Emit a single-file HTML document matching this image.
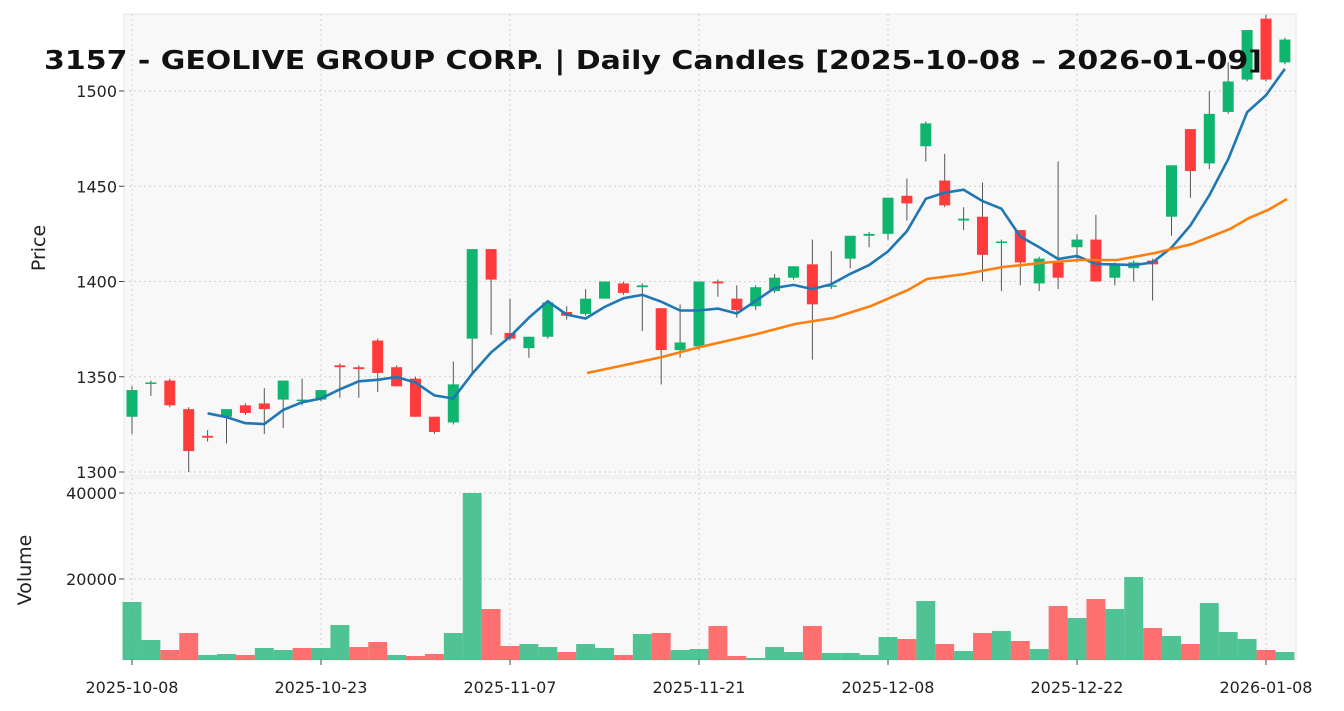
<!DOCTYPE html>
<html><head><meta charset="utf-8"><style>
body{margin:0;background:#fff;}
svg{display:block;font-family:"DejaVu Sans","Liberation Sans",sans-serif;}
</style></head><body>
<svg id="s" width="1344" height="711" viewBox="0 0 1344 711" xmlns="http://www.w3.org/2000/svg"></svg>
<script>
const C=[[1329,1343,1345,1320],[1347,1347,1348,1340],[1348,1335,1349,1334],[1333,1311,1334,1300],[1319,1318,1322,1316],[1329,1333,1333,1315],[1335,1331,1336,1330],[1336,1333,1344,1320],[1338,1348,1348,1323],[1338,1338,1349,1335],[1338,1343,1343,1337],[1356,1355,1357,1339],[1355,1354,1356,1339],[1369,1352,1370,1342],[1355,1345,1356,1345],[1349,1329,1350,1329],[1329,1321,1329,1320],[1326,1346,1358,1325],[1370,1417,1417,1352],[1417,1401,1417,1372],[1373,1370,1391,1369],[1365,1371,1371,1360],[1371,1389,1390,1370],[1384,1382,1387,1380],[1383,1391,1396,1382],[1391,1400,1400,1391],[1399,1394,1400,1393],[1397,1398,1399,1374],[1386,1364,1386,1346],[1364,1368,1388,1360],[1366,1400,1400,1364],[1400,1399,1401,1392],[1391,1385,1398,1381],[1387,1397,1398,1385],[1395,1402,1404,1394],[1402,1408,1408,1401],[1409,1388,1422,1359],[1398,1398,1416,1396],[1412,1424,1424,1407],[1424,1425,1426,1418],[1425,1444,1444,1422],[1445,1441,1454,1432],[1471,1483,1484,1463],[1453,1440,1467,1439],[1432,1433,1439,1427],[1434,1414,1452,1400],[1421,1421,1422,1395],[1427,1410,1427,1398],[1399,1412,1413,1395],[1410,1402,1463,1396],[1418,1422,1425,1410],[1422,1400,1435,1400],[1402,1409,1410,1398],[1407,1410,1411,1400],[1411,1409,1412,1390],[1434,1461,1461,1424],[1480,1458,1480,1444],[1462,1488,1500,1459],[1489,1505,1515,1488],[1506,1532,1532,1505],[1538,1506,1540,1505],[1515,1527,1528,1514]];
const V=[602,640,650,633,655,654,655,648,650,648,648,625,647,642,655,656,654,633,493,609,646,644,647,652,644,648,655,634,633,650,649,626,656,658,647,652,626,653,653,655,637,639,601,644,651,633,631,641,649,606,618,599,609,577,628,636,644,603,632,639,650,652];
const VC=[1,1,0,0,1,1,0,1,1,0,1,1,0,0,1,0,0,1,1,0,0,1,1,0,1,1,0,1,0,1,1,0,0,1,1,1,0,1,1,1,1,0,1,0,1,0,1,0,1,0,1,0,1,1,0,1,0,1,1,1,0,1];
const X=i=>132+18.9*i, Y=p=>91+(1500-p)*1.905;
let h='';
h+=`<rect x="124" y="14" width="1172" height="462" fill="#f8f8f8" stroke="#e6e6e6"/>`;
h+=`<rect x="124" y="478" width="1172" height="182" fill="#f8f8f8" stroke="#e6e6e6"/>`;
const g='stroke="#d0d0d0" stroke-dasharray="2,3" stroke-width="1"';
[1300,1350,1400,1450,1500].forEach(p=>{h+=`<line x1="124" x2="1296" y1="${Y(p)}" y2="${Y(p)}" ${g}/><text x="117" y="${Y(p)+6}" font-size="16" text-anchor="end" fill="#222">${p}</text><line x1="119" x2="124" y1="${Y(p)}" y2="${Y(p)}" stroke="#444"/>`;});
[[40000,493],[20000,579]].forEach(([v,y])=>{h+=`<line x1="124" x2="1296" y1="${y}" y2="${y}" ${g}/><text x="117" y="${y+6}" font-size="16" text-anchor="end" fill="#222">${v}</text><line x1="119" x2="124" y1="${y}" y2="${y}" stroke="#444"/>`;});
const dl=[[0,'2025-10-08'],[10,'2025-10-23'],[20,'2025-11-07'],[30,'2025-11-21'],[40,'2025-12-08'],[50,'2025-12-22'],[60,'2026-01-08']];
dl.forEach(([i,t])=>{const x=X(i);h+=`<line x1="${x}" x2="${x}" y1="14" y2="476" ${g}/><line x1="${x}" x2="${x}" y1="478" y2="660" ${g}/><line x1="${x}" x2="${x}" y1="660" y2="665" stroke="#444"/><text x="${x}" y="693" font-size="16" text-anchor="middle" fill="#222">${t}</text>`;});
V.forEach((t,i)=>{const c=VC[i]?'#26b57a':'#ff4d4d';h+=`<rect x="${X(i)-9.45}" y="${t}" width="18.9" height="${660-t}" fill="${c}" fill-opacity="0.8"/>`;});
C.forEach(([o,c,hi,lo],i)=>{const up=c>=o,col=up?'#0fb56e':'#ff3b3b',x=X(i);
h+=`<line x1="${x}" x2="${x}" y1="${Y(hi)}" y2="${Y(lo)}" stroke="#555" stroke-width="1"/>`;
const t=Y(Math.max(o,c)),b=Y(Math.min(o,c));h+=`<rect x="${x-5.5}" y="${t}" width="11" height="${Math.max(b-t,1.5)}" fill="${col}"/>`;});
function ma(n,col){let pts=[];for(let i=n-1;i<C.length;i++){let s=0;for(let j=i-n+1;j<=i;j++)s+=C[j][1];pts.push(X(i).toFixed(1)+','+Y(s/n).toFixed(1));}
h+=`<polyline points="${pts.join(' ')}" fill="none" stroke="${col}" stroke-width="2.6"/>`;}
ma(5,'#1f77b4');
h+=`<polyline points="587,373 625,365 662,357 700,347 757,334 795,324 833,318 871,306 908,290 927,279 965,274 1003,267 1041,263 1079,260 1117,260 1155,253 1192,244 1230,229 1249,218 1268,210 1287,199" fill="none" stroke="#ff7f0e" stroke-width="2.6"/>`;
h+=`<text x="44" y="69" font-size="26" font-weight="bold" textLength="1218" lengthAdjust="spacingAndGlyphs" fill="#111">3157 - GEOLIVE GROUP CORP. | Daily Candles [2025-10-08 – 2026-01-09]</text>`;
h+=`<text transform="translate(45,248) rotate(-90)" font-size="19" text-anchor="middle" fill="#222">Price</text>`;
h+=`<text transform="translate(31,570) rotate(-90)" font-size="19" text-anchor="middle" fill="#222">Volume</text>`;
document.getElementById('s').innerHTML=h;
</script>
</body></html>
